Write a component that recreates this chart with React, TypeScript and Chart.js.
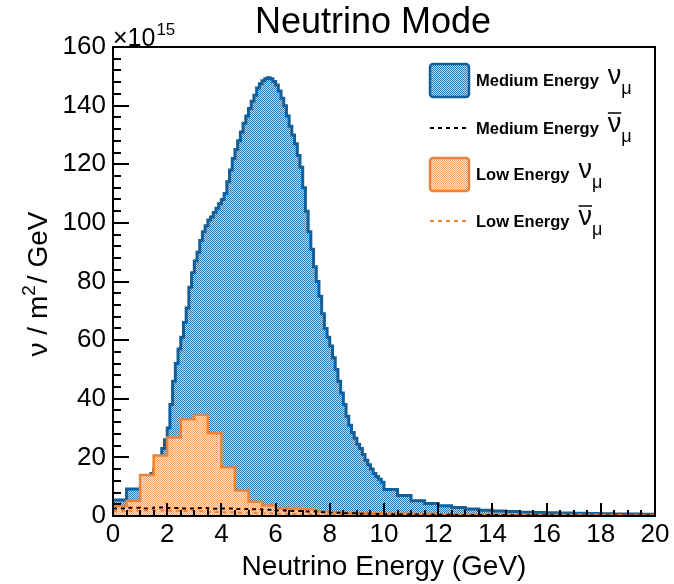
import React, { useEffect, useRef } from 'react';
import { Chart, registerables } from 'chart.js';

Chart.register(...registerables);

// ---------- data ----------
const xMin = 0;
const xMax = 20;
const yMin = 0;
const yMax = 160;
const xMajorStep = 2;
const xMinorStep = 0.5;
const yMajorStep = 20;
const yMinorStep = 4;

// Medium Energy nu_mu : 0-1 GeV in 0.5 GeV bins
const meNuCoarse = [5.5, 9.2];
// Medium Energy nu_mu : 1-10 GeV in 0.1 GeV bins
const meNuFine = [
  9.5, 10.5, 11.5, 13, 14.5, 16, 18, 20, 23, 26,
  30, 38, 46, 52, 57, 61, 66, 71, 78, 83,
  87, 90, 94, 97, 99, 101, 102, 103.5, 105, 106.5,
  108, 110, 114, 118, 122, 125, 128, 131, 134, 136.5,
  139, 141.5, 143.5, 146, 147.5, 148.5, 149.2, 149.5, 149.2, 148.2,
  147, 145, 142.5, 140, 136.5, 133, 130, 127, 123, 119,
  112, 104, 97, 91, 85, 80, 75, 69, 64, 61,
  58, 54, 50, 46, 42, 38, 34, 31, 28.5, 26.5,
  24.5, 23, 21, 19, 17.5, 16, 14.5, 13.5, 12.5, 11.5,
];
// Medium Energy nu_mu : 10-20 GeV in 0.5 GeV bins
const meNuTail = [9.0, 7.0, 5.2, 4.3, 3.5, 2.9, 2.4, 2.0, 1.7, 1.5, 1.3, 1.2, 1.1, 1.0, 0.9, 0.85, 0.8, 0.7, 0.65, 0.6];

// Medium Energy anti-nu_mu : 0-20 GeV in 0.5 GeV bins
const meNuBar = [
  2.6, 2.8, 2.6, 2.9, 2.7, 2.6, 2.7, 2.5, 2.6, 2.4,
  2.3, 2.1, 1.9, 1.7, 1.5, 1.3, 1.1, 0.9, 0.8, 0.7,
  0.6, 0.55, 0.5, 0.45, 0.4, 0.38, 0.35, 0.33, 0.3, 0.28,
  0.26, 0.25, 0.23, 0.22, 0.2, 0.19, 0.18, 0.17, 0.16, 0.15,
];

// Low Energy nu_mu : 0-20 GeV in 0.5 GeV bins
const leNu = [
  3.4, 5.2, 14, 20.6, 26.8, 33, 34.5, 28.2, 16.6, 8.7,
  4.9, 3.6, 2.6, 2.5, 2.3, 1.5, 1.3, 1.1, 1.0, 0.9,
  0.8, 0.75, 0.7, 0.65, 0.6, 0.55, 0.5, 0.5, 0.45, 0.4,
  0.4, 0.35, 0.35, 0.3, 0.3, 0.3, 0.25, 0.25, 0.2, 0.2,
];

// Low Energy anti-nu_mu : 0-20 GeV in 0.5 GeV bins
const leNuBar = [
  1.6, 1.8, 1.9, 1.9, 1.8, 1.7, 1.6, 1.4, 1.3, 1.1,
  1.0, 0.9, 0.8, 0.7, 0.6, 0.5, 0.45, 0.4, 0.35, 0.3,
  0.28, 0.26, 0.24, 0.22, 0.2, 0.19, 0.18, 0.17, 0.16, 0.15,
  0.14, 0.13, 0.12, 0.12, 0.11, 0.11, 0.1, 0.1, 0.1, 0.1,
];

const legendLabels = ['Medium Energy', 'Medium Energy', 'Low Energy', 'Low Energy'];
const titleText = 'Neutrino Mode';
const xTitle = 'Neutrino Energy (GeV)';

// ---------- helpers ----------
type Pt = { x: number; y: number };
function histPoints(start: number, width: number, values: number[]): Pt[] {
  return values.map((v, i) => ({ x: +(start + i * width).toFixed(4), y: v }));
}
function closeHist(pts: Pt[], end: number): Pt[] {
  return [...pts, { x: end, y: pts[pts.length - 1].y }];
}

const FONT = "'Liberation Sans', Arial, Helvetica, sans-serif";
const BLUE_LINE = '#135f98';
const ORANGE_LINE = '#e8843c';

function makePattern(a: string, b: string): CanvasPattern | string {
  const c = document.createElement('canvas');
  c.width = 2;
  c.height = 2;
  const g = c.getContext('2d');
  if (!g) return a;
  g.fillStyle = b;
  g.fillRect(0, 0, 2, 2);
  g.fillStyle = a;
  g.fillRect(0, 0, 1, 1);
  g.fillRect(1, 1, 1, 1);
  return g.createPattern(c, 'repeat') || a;
}

export default function App() {
  const ref = useRef<HTMLCanvasElement | null>(null);

  useEffect(() => {
    if (!ref.current) return;
    const bluePat = makePattern('#2677b2', '#c6dcec');
    const orangePat = makePattern('#f0a26a', '#fde6d4');

    const meNuPts = closeHist(
      [...histPoints(0, 0.5, meNuCoarse), ...histPoints(1, 0.1, meNuFine), ...histPoints(10, 0.5, meNuTail)],
      xMax
    );
    const meNuBarPts = closeHist(histPoints(0, 0.5, meNuBar), xMax);
    const leNuPts = closeHist(histPoints(0, 0.5, leNu), xMax);
    const leNuBarPts = closeHist(histPoints(0, 0.5, leNuBar), xMax);

    const decor = {
      id: 'decor',
      afterDraw(chart: any) {
        const { ctx, chartArea: a, scales } = chart;
        const xs = scales.x;
        const ys = scales.y;
        ctx.save();
        // inward ticks
        ctx.strokeStyle = '#000';
        ctx.lineWidth = 2;
        ctx.beginPath();
        for (let v = xMin; v <= xMax + 1e-6; v += xMinorStep) {
          const px = Math.round(xs.getPixelForValue(v));
          const major = Math.abs(v / xMajorStep - Math.round(v / xMajorStep)) < 1e-6;
          ctx.moveTo(px, a.bottom);
          ctx.lineTo(px, a.bottom - (major ? 13 : 6));
        }
        for (let v = yMin; v <= yMax + 1e-6; v += yMinorStep) {
          const py = Math.round(ys.getPixelForValue(v));
          const major = Math.abs(v / yMajorStep - Math.round(v / yMajorStep)) < 1e-6;
          ctx.moveTo(a.left, py);
          ctx.lineTo(a.left + (major ? 16 : 8), py);
        }
        ctx.stroke();
        // frame
        ctx.strokeRect(a.left, a.top, a.right - a.left, a.bottom - a.top);

        ctx.fillStyle = '#000';
        // title
        ctx.font = `36px ${FONT}`;
        ctx.textAlign = 'center';
        ctx.textBaseline = 'alphabetic';
        ctx.fillText(titleText, 373, 33);
        // x title
        ctx.font = `28px ${FONT}`;
        ctx.fillText(xTitle, (a.left + a.right) / 2, 575);
        // exponent
        ctx.textAlign = 'left';
        ctx.font = `25px ${FONT}`;
        ctx.fillText('\u00d710', a.left, 46);
        const w10 = ctx.measureText('\u00d710').width;
        ctx.font = `17px ${FONT}`;
        ctx.fillText('15', a.left + w10 + 1, 35);

        // y title (rotated)
        ctx.save();
        ctx.translate(47, 284);
        ctx.rotate(-Math.PI / 2);
        const p1 = '\u03bd / m';
        const p2 = '2';
        const p3 = '/ GeV';
        ctx.font = `28px ${FONT}`;
        const w1 = ctx.measureText(p1).width;
        const w3 = ctx.measureText(p3).width;
        ctx.font = `19px ${FONT}`;
        const w2 = ctx.measureText(p2).width;
        const total = w1 + w2 + w3 + 2;
        let cx = -total / 2;
        ctx.font = `28px ${FONT}`;
        ctx.fillText(p1, cx, 0);
        cx += w1;
        ctx.font = `19px ${FONT}`;
        ctx.fillText(p2, cx, -12);
        cx += w2 + 2;
        ctx.font = `28px ${FONT}`;
        ctx.fillText(p3, cx, 0);
        ctx.restore();

        // legend
        const rows = [80, 128, 174, 221];
        const kinds = ['boxBlue', 'dashBlack', 'boxOrange', 'dashOrange'];
        rows.forEach((ry, i) => {
          const kind = kinds[i];
          if (kind.startsWith('box')) {
            const isBlue = kind === 'boxBlue';
            ctx.fillStyle = isBlue ? bluePat : orangePat;
            ctx.strokeStyle = isBlue ? BLUE_LINE : ORANGE_LINE;
            ctx.lineWidth = 2.5;
            ctx.beginPath();
            if ((ctx as any).roundRect) (ctx as any).roundRect(430, ry - 16, 39, 33, 3);
            else ctx.rect(430, ry - 16, 39, 33);
            ctx.fill();
            ctx.stroke();
          } else {
            ctx.strokeStyle = kind === 'dashBlack' ? '#000' : ORANGE_LINE;
            ctx.lineWidth = 2;
            ctx.setLineDash([4, 4]);
            ctx.beginPath();
            ctx.moveTo(430, ry);
            ctx.lineTo(468, ry);
            ctx.stroke();
            ctx.setLineDash([]);
          }
          ctx.fillStyle = '#000';
          ctx.font = `bold 16.5px ${FONT}`;
          ctx.textAlign = 'left';
          ctx.fillText(legendLabels[i], 476, ry + 6);
          const tw = ctx.measureText(legendLabels[i]).width;
          const nx = 476 + tw + 9;
          ctx.font = `27px ${FONT}`;
          ctx.fillText('\u03bd', nx, ry + 4);
          const nw = ctx.measureText('\u03bd').width;
          if (i % 2 === 1) {
            ctx.strokeStyle = '#000';
            ctx.lineWidth = 1.5;
            ctx.beginPath();
            ctx.moveTo(nx, ry - 15);
            ctx.lineTo(nx + nw, ry - 15);
            ctx.stroke();
          }
          ctx.font = `18px ${FONT}`;
          ctx.fillText('\u03bc', nx + nw, ry + 14);
        });
        ctx.restore();
      },
    };

    const chart = new Chart(ref.current, {
      type: 'line',
      data: {
        datasets: [
          {
            label: 'Low Energy anti-nu',
            data: leNuBarPts,
            stepped: 'before',
            borderColor: ORANGE_LINE,
            borderWidth: 2,
            borderDash: [4, 4],
            fill: false,
            pointRadius: 0,
            order: 0,
          },
          {
            label: 'Medium Energy anti-nu',
            data: meNuBarPts,
            stepped: 'before',
            borderColor: '#000',
            borderWidth: 2,
            borderDash: [4, 4],
            fill: false,
            pointRadius: 0,
            order: 1,
          },
          {
            label: 'Low Energy nu',
            data: leNuPts,
            stepped: 'before',
            borderColor: ORANGE_LINE,
            borderWidth: 2.5,
            backgroundColor: orangePat as any,
            fill: 'origin',
            pointRadius: 0,
            order: 2,
          },
          {
            label: 'Medium Energy nu',
            data: meNuPts,
            stepped: 'before',
            borderColor: BLUE_LINE,
            borderWidth: 3,
            backgroundColor: bluePat as any,
            fill: 'origin',
            pointRadius: 0,
            order: 3,
          },
        ],
      },
      options: {
        animation: false,
        responsive: false,
        devicePixelRatio: 1,
        layout: { padding: { left: 0, right: 19, top: 47, bottom: 0 } },
        plugins: {
          legend: { display: false },
          tooltip: { enabled: false },
          title: { display: false },
        },
        elements: { line: { tension: 0 } },
        scales: {
          x: {
            type: 'linear',
            min: xMin,
            max: xMax,
            grid: { display: false, drawTicks: false },
            border: { display: false },
            ticks: {
              stepSize: xMajorStep,
              color: '#000',
              font: { family: FONT, size: 26 },
              padding: 3,
              maxRotation: 0,
              autoSkip: false,
            },
            afterFit: (s: any) => {
              s.height = 68;
            },
          },
          y: {
            type: 'linear',
            min: yMin,
            max: yMax,
            grid: { display: false, drawTicks: false },
            border: { display: false },
            ticks: {
              stepSize: yMajorStep,
              color: '#000',
              font: { family: FONT, size: 26 },
              padding: 7,
            },
            afterFit: (s: any) => {
              s.width = 113;
            },
          },
        },
      },
      plugins: [decor],
    } as any);

    return () => chart.destroy();
  }, []);

  return (
    <div style={{ position: 'fixed', left: 0, top: 0, width: 674, height: 584, background: '#fff' }}>
      <canvas ref={ref} width={674} height={584} style={{ display: 'block' }} />
    </div>
  );
}
